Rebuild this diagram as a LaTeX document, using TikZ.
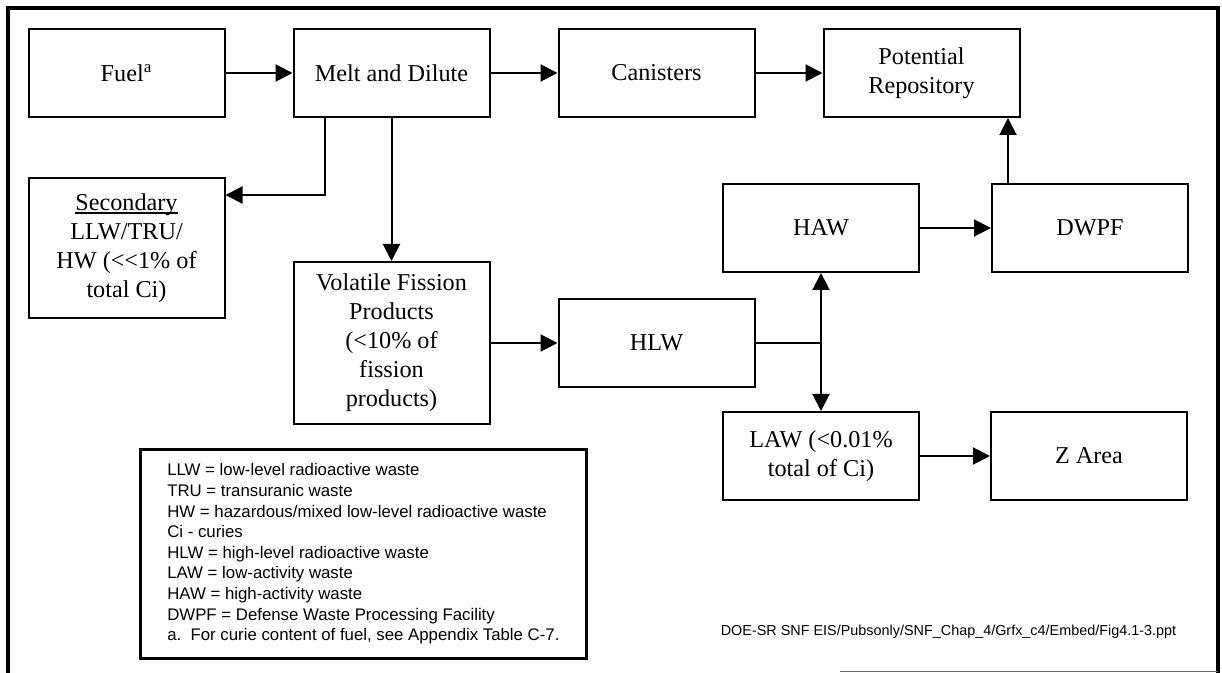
\documentclass[tikz,border=0pt]{standalone}
\usepackage{fontspec}
\setmainfont{Liberation Serif}
\newfontfamily\keyfont{Liberation Sans}
\usepackage{tikz}
\usetikzlibrary{arrows.meta,positioning}
\newcommand\ruledword[1]{{\setbox0\hbox{#1}\rlap{\rule[-1.6pt]{\wd0}{0.6pt}}\box0}}
\tikzset{box/.style={draw, line width=1pt, minimum width=98pt, minimum height=44pt,
    inner sep=2pt, align=center, font=\fontsize{12.1}{14.5}\selectfont},
  flow/.style={-{Triangle[length=8.5pt,width=8.5pt]}, line width=1pt},
  legend/.style={draw, line width=1.4pt, minimum width=223pt, minimum height=104.5pt,
    align=left, font=\keyfont\fontsize{8.4}{10.3}\selectfont}
}

\begin{document}
\begin{tikzpicture}[x=0.5pt, y=-0.5pt, node distance=132.5pt, on grid]
  \useasboundingbox (0,0) rectangle (1222,673);
  % outer frame
  \draw[line width=1.7pt] (8,673) -- (8,8) -- (1218,8) -- (1218,673);
  \draw[line width=0.4pt, black!60] (840,671) -- (1218,671);

  \node[box]                      (fuel)  at (126.5,73)          {Fuel\textsuperscript{a}};
  \node[box]                      (melt)  [right=of fuel]        {Melt and Dilute};
  \node[box]                      (can)   [right=of melt]        {Canisters};
  \node[box]                      (repo)  [right=of can]         {\fontsize{12.1}{13}\selectfont Potential\\Repository};
  \node[box, minimum height=70pt] (sec)   [below=87.5pt of fuel] {\ruledword{Secondary}\\LLW/TRU/\\HW ({<}\kern0pt{<}1\% of\\total Ci)};
  \node[box, minimum height=81pt] (vfp)   [below=135pt of melt]  {Volatile Fission\\Products\\(<10\% of\\fission\\products)};
  \node[box]                      (hlw)   [right=of vfp]         {HLW};
  \node[box]                      (haw)   at (821,228)           {HAW};
  \node[box]                      (dwpf)  [right=134.5pt of haw] {DWPF};
  \node[box]                      (law)   [below=114pt of haw]   {\fontsize{12.1}{13}\selectfont LAW (<0.01\%\\total of Ci)};
  \node[box]                      (zarea) [right=134pt of law]   {Z Area};

  \path[flow] (fuel) edge (melt)
              (melt) edge (can)
              (can)  edge (repo)
              (melt) edge (vfp)
              (vfp)  edge (hlw)
              (haw)  edge (dwpf)
              (law)  edge (zarea);

  \draw[flow] ([xshift=16pt]melt.south west) |- ([yshift=-9pt]sec.north east);
  \draw[flow] ([xshift=8.5pt]dwpf.north west) -- ([xshift=8.5pt]dwpf.north west |- repo.south);

  % HLW splits into HAW and LAW
  \coordinate (split) at (hlw.east -| haw.south);
  \draw[line width=1pt] (hlw.east) -- (split);
  \draw[flow] (split) -- (haw.south);
  \draw[flow] (split) -- (split |- law.north);

  \node[legend, anchor=north west] (key) at (139,448)
    {LLW = low-level radioactive waste\\
     TRU = transuranic waste\\
     HW = hazardous/mixed low-level radioactive waste\\
     Ci - curies\\
     HLW = high-level radioactive waste\\
     LAW = low-activity waste\\
     HAW = high-activity waste\\
     DWPF = Defense Waste Processing Facility\\
     a.\ \ For curie content of fuel, see Appendix Table C-7.};

  \node[font=\keyfont\fontsize{7.2}{8}\selectfont] (src) at (948.5,632)
    {DOE-SR SNF EIS/Pubsonly/SNF\_Chap\_4/Grfx\_c4/Embed/Fig4.1-3.ppt};
\end{tikzpicture}
\end{document}
